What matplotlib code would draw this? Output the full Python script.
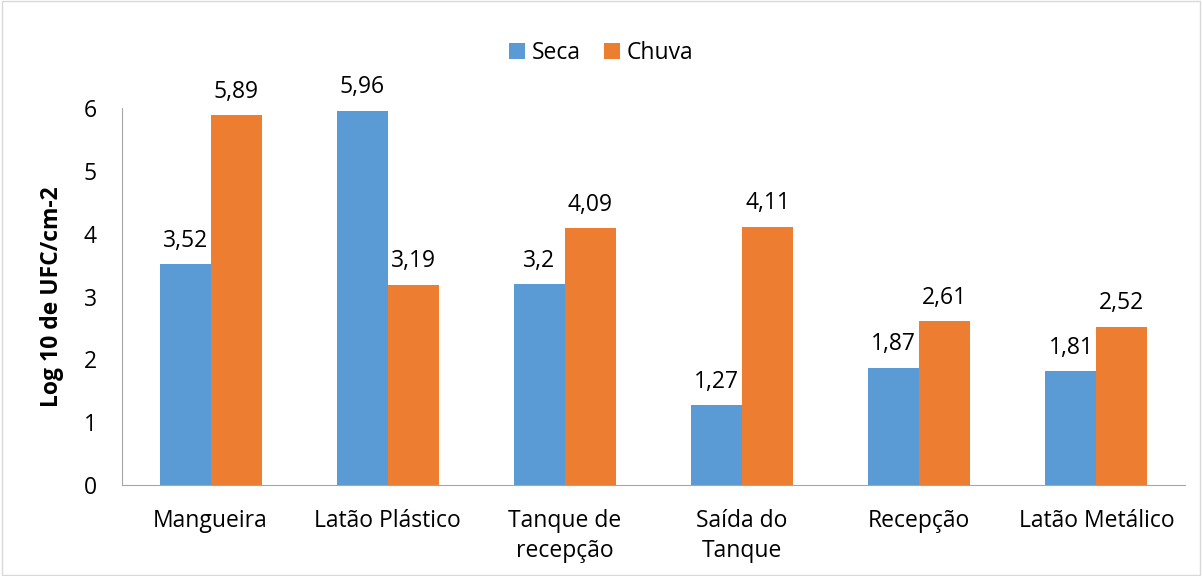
import numpy as np
import matplotlib.pyplot as plt

categories = ["Mangueira", "Latão Plástico", "Tanque de\nrecepção", "Saída do\nTanque",
              "Recepção", "Latão Metálico"]
seca = [3.52, 5.96, 3.2, 1.27, 1.87, 1.81]
chuva = [5.89, 3.19, 4.09, 4.11, 2.61, 2.52]

plt.rcParams["font.family"] = ["Open Sans", "DejaVu Sans"]
FS = 16.5

fig = plt.figure(figsize=(12.02, 5.76), dpi=100)
ax = fig.add_axes([122 / 1202, 1 - 485 / 576, (1185 - 122) / 1202, (485 - 108) / 576])

x = np.arange(len(categories))
w = 0.288
b1 = ax.bar(x - w / 2, seca, w, color="#5B9BD5", label="Seca")
b2 = ax.bar(x + w / 2, chuva, w, color="#ED7D31", label="Chuva")

for bars, vals in ((b1, seca), (b2, chuva)):
    for b, v in zip(bars, vals):
        ax.text(b.get_x() + b.get_width() / 2, v + 0.18, f"{v:g}".replace(".", ","),
                ha="center", va="bottom", fontsize=FS, color="#000000")

ax.set_xlim(-0.5, len(categories) - 0.5)
ax.set_ylim(0, 6)
ax.set_xticks(x)
ax.set_xticklabels(categories, fontsize=FS, linespacing=1.35)
ax.set_yticks(range(7))
ax.tick_params(axis="y", labelsize=FS, length=0, pad=18)
ax.tick_params(axis="x", length=0, pad=17)
for s in ("top", "right"):
    ax.spines[s].set_visible(False)
ax.spines["left"].set_color("#A6A6A6")
ax.spines["bottom"].set_color("#A6A6A6")
ax.set_ylabel("Log 10 de UFC/cm-2", fontsize=FS, fontweight="bold", labelpad=14)

fig.legend(loc="center", bbox_to_anchor=(0.5, 1 - 53 / 576), ncol=2, frameon=False,
           fontsize=FS, handlelength=0.7, handleheight=0.7, handletextpad=0.3, columnspacing=1.0)

fig.patches.append(plt.Rectangle((0.002, 0.002), 0.996, 0.996, transform=fig.transFigure,
                                 fill=False, edgecolor="#D9D9D9", linewidth=1))

fig.savefig("out.png", dpi=100)
